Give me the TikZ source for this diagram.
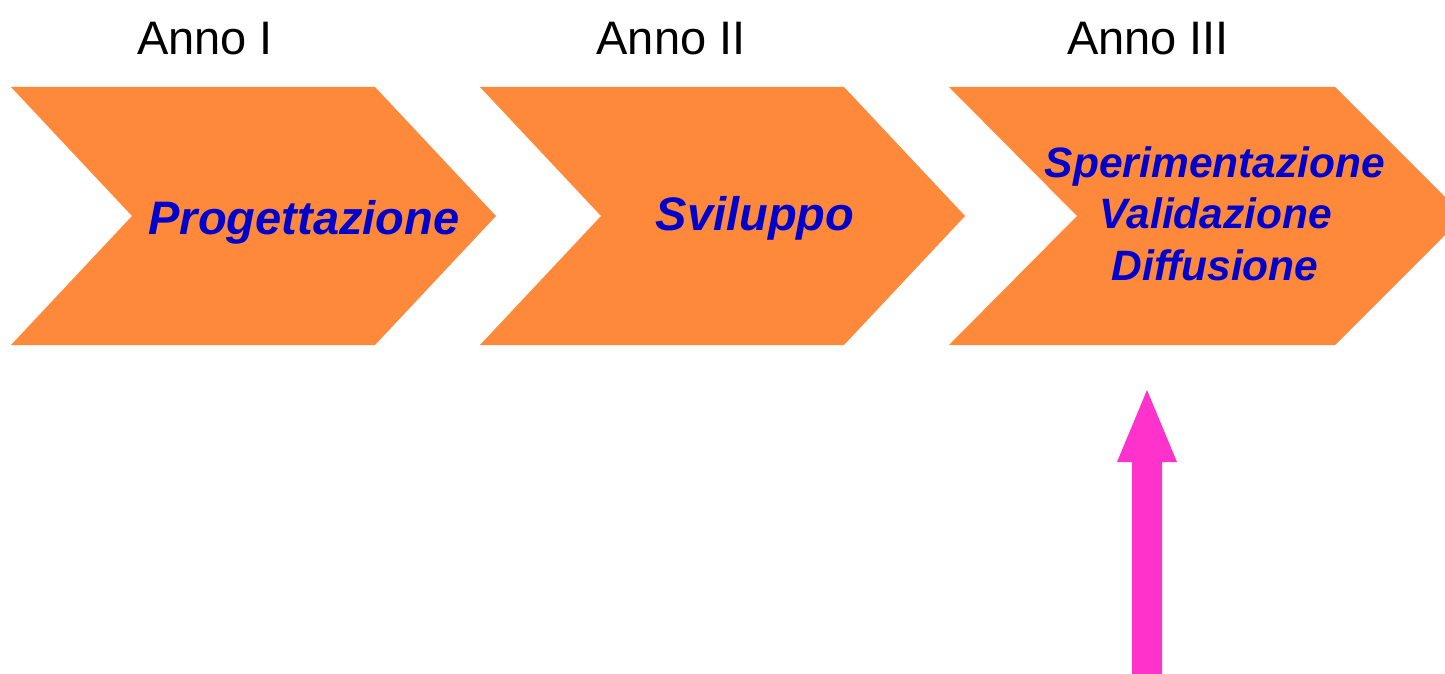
\documentclass[tikz,border=0pt]{standalone}
\usepackage{fontspec}
\setmainfont{Liberation Sans}
\definecolor{chev}{RGB}{255,137,58}
\definecolor{lab}{RGB}{0,0,204}
\definecolor{pinkarrow}{RGB}{255,51,204}
\begin{document}
\begin{tikzpicture}[x=1pt,y=-1pt,
  chevron/.style={fill=chev,draw=none},
  yearlabel/.style={anchor=base,font=\fontsize{47}{56}\selectfont,inner sep=0pt},
  phaselabel/.style={anchor=base,font=\fontsize{47}{56}\selectfont\bfseries\itshape,text=lab,inner sep=0pt},
  phaselabelsmall/.style={anchor=base,font=\fontsize{42.5}{51}\selectfont\bfseries\itshape,text=lab,inner sep=0pt}]
\useasboundingbox (0,0) rectangle (1445,674);
\clip (0,0) rectangle (1445,674);
\fill[white] (0,0) rectangle (1445,674);
% chevrons
\foreach \dx in {0,469}{
  \path[chevron] (11+\dx,87) -- (375+\dx,87) -- (496+\dx,216) -- (375+\dx,345) -- (11+\dx,345) -- (132+\dx,216) -- cycle;
}
\path[chevron] (949,87) -- (1335,87) -- (1464,216) -- (1335,345) -- (949,345) -- (1077,216) -- cycle;
% year labels
\node[yearlabel] (y1) at (205,55) {Anno I};
\node[yearlabel] (y2) at (671,55) {Anno II};
\node[yearlabel] (y3) at (1148,55) {Anno III};
% phase labels
\node[phaselabel] (p1) at (304,234) {Progettazione};
\node[phaselabel] (p2) at (755,230) {Sviluppo};
\node[phaselabelsmall] (p3a) at (1215,177) {Sperimentazione};
\node[phaselabelsmall] (p3b) at (1216,228) {Validazione};
\node[phaselabelsmall] (p3c) at (1215,280) {Diffusione};
% pink arrow
\fill[pinkarrow] (1132,674) -- (1132,462) -- (1117,462) -- (1147,390) -- (1177,462) -- (1162,462) -- (1162,674) -- cycle;
\end{tikzpicture}
\end{document}
